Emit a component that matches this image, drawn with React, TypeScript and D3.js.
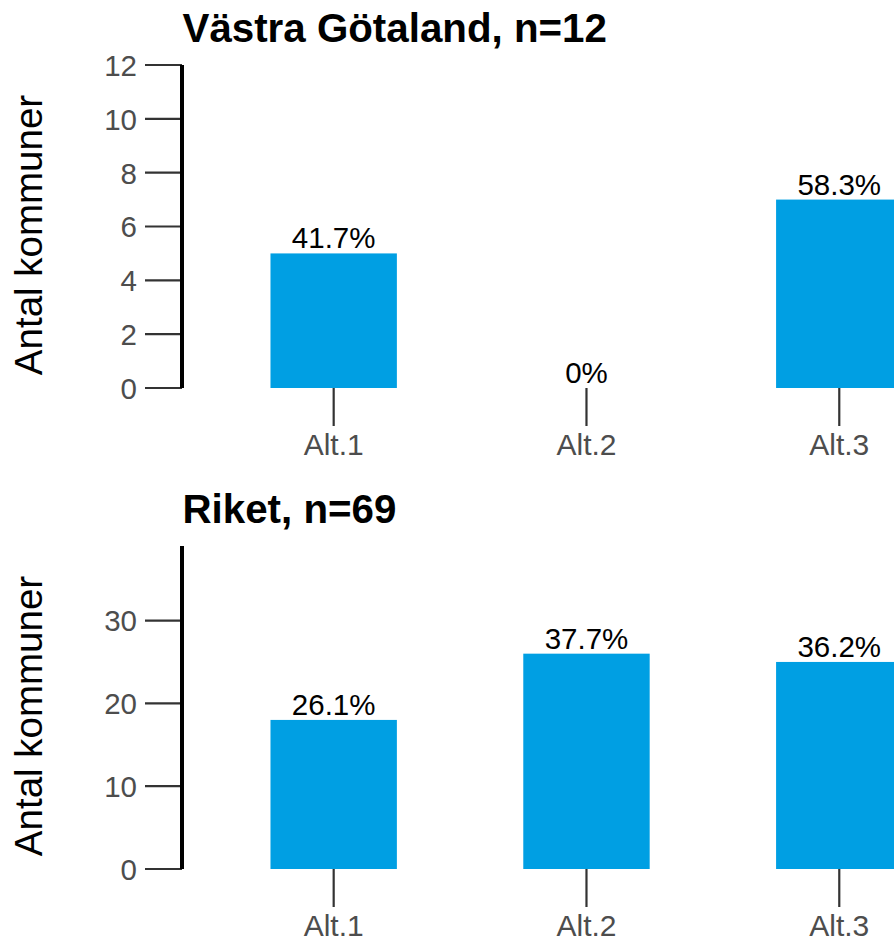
import React from "react";
import * as d3 from "d3";

// values
const categories = ["Alt.1", "Alt.2", "Alt.3"];
const panelTitles = ["Västra Götaland, n=12", "Riket, n=69"];
const panelCounts = [
  [5, 0, 7],
  [18, 26, 25],
];
const panelPercents = [
  ["41.7%", "0%", "58.3%"],
  ["26.1%", "37.7%", "36.2%"],
];
const panelYMax = [12, 39];
const panelTicks = [
  [0, 2, 4, 6, 8, 10, 12],
  [0, 10, 20, 30],
];
const yTitle = "Antal kommuner";

const width = 894;
const height = 942;
const barColor = "#009fe3";
const font = "'Liberation Sans', Arial, sans-serif";

const Panel = ({ idx, offset }: { idx: number; offset: number }) => {
  const top = 65;
  const bottom = 388;
  const axisX = 182;

  const x = d3
    .scaleBand()
    .domain(categories)
    .range([axisX, axisX + 252.8 * 3.2])
    .paddingInner(0.5)
    .paddingOuter(0.35);

  const y = d3.scaleLinear().domain([0, panelYMax[idx]]).range([bottom, top]);

  const counts = panelCounts[idx];
  const pcts = panelPercents[idx];

  return (
    <g transform={`translate(0,${offset})`}>
      <text x={axisX + 0.5} y={41.5} fontSize={40.3} fontWeight="bold" fill="#000" fontFamily={font}>
        {panelTitles[idx]}
      </text>
      <text
        transform={`translate(42,${(top + bottom) / 2 + 8.5}) rotate(-90)`}
        textAnchor="middle"
        fontSize={38.5}
        fill="#000"
        fontFamily={font}
      >
        {yTitle}
      </text>

      {panelTicks[idx].map((t) => (
        <g key={t}>
          <line x1={145} x2={axisX} y1={y(t)} y2={y(t)} stroke="#333" strokeWidth={2.2} />
          <text
            x={137}
            y={y(t)}
            dy="0.37em"
            textAnchor="end"
            fontSize={29.5}
            fill="#4d4d4d"
            fontFamily={font}
          >
            {t}
          </text>
        </g>
      ))}
      <line x1={axisX} x2={axisX} y1={y(panelYMax[idx])} y2={y(0)} stroke="#000" strokeWidth={4} />

      {categories.map((c, i) => {
        const bx = x(c)!;
        const cx = bx + x.bandwidth() / 2;
        return (
          <g key={c}>
            <rect x={bx} y={y(counts[i])} width={x.bandwidth()} height={y(0) - y(counts[i])} fill={barColor} />
            <text
              x={cx}
              y={y(counts[i]) - 5}
              textAnchor="middle"
              fontSize={29.5}
              fill="#000"
              fontFamily={font}
            >
              {pcts[i]}
            </text>
            <line x1={cx} x2={cx} y1={bottom} y2={bottom + 38} stroke="#333" strokeWidth={2.2} />
            <text
              x={cx}
              y={455}
              textAnchor="middle"
              fontSize={30}
              fill="#4d4d4d"
              fontFamily={font}
            >
              {c}
            </text>
          </g>
        );
      })}
    </g>
  );
};

export default function App() {
  return (
    <svg
      width={width}
      height={height}
      style={{ position: "absolute", left: 0, top: 0, background: "#fff", overflow: "hidden" }}
    >
      <rect width={width} height={height} fill="#fff" />
      <Panel idx={0} offset={0} />
      <Panel idx={1} offset={481} />
    </svg>
  );
}
